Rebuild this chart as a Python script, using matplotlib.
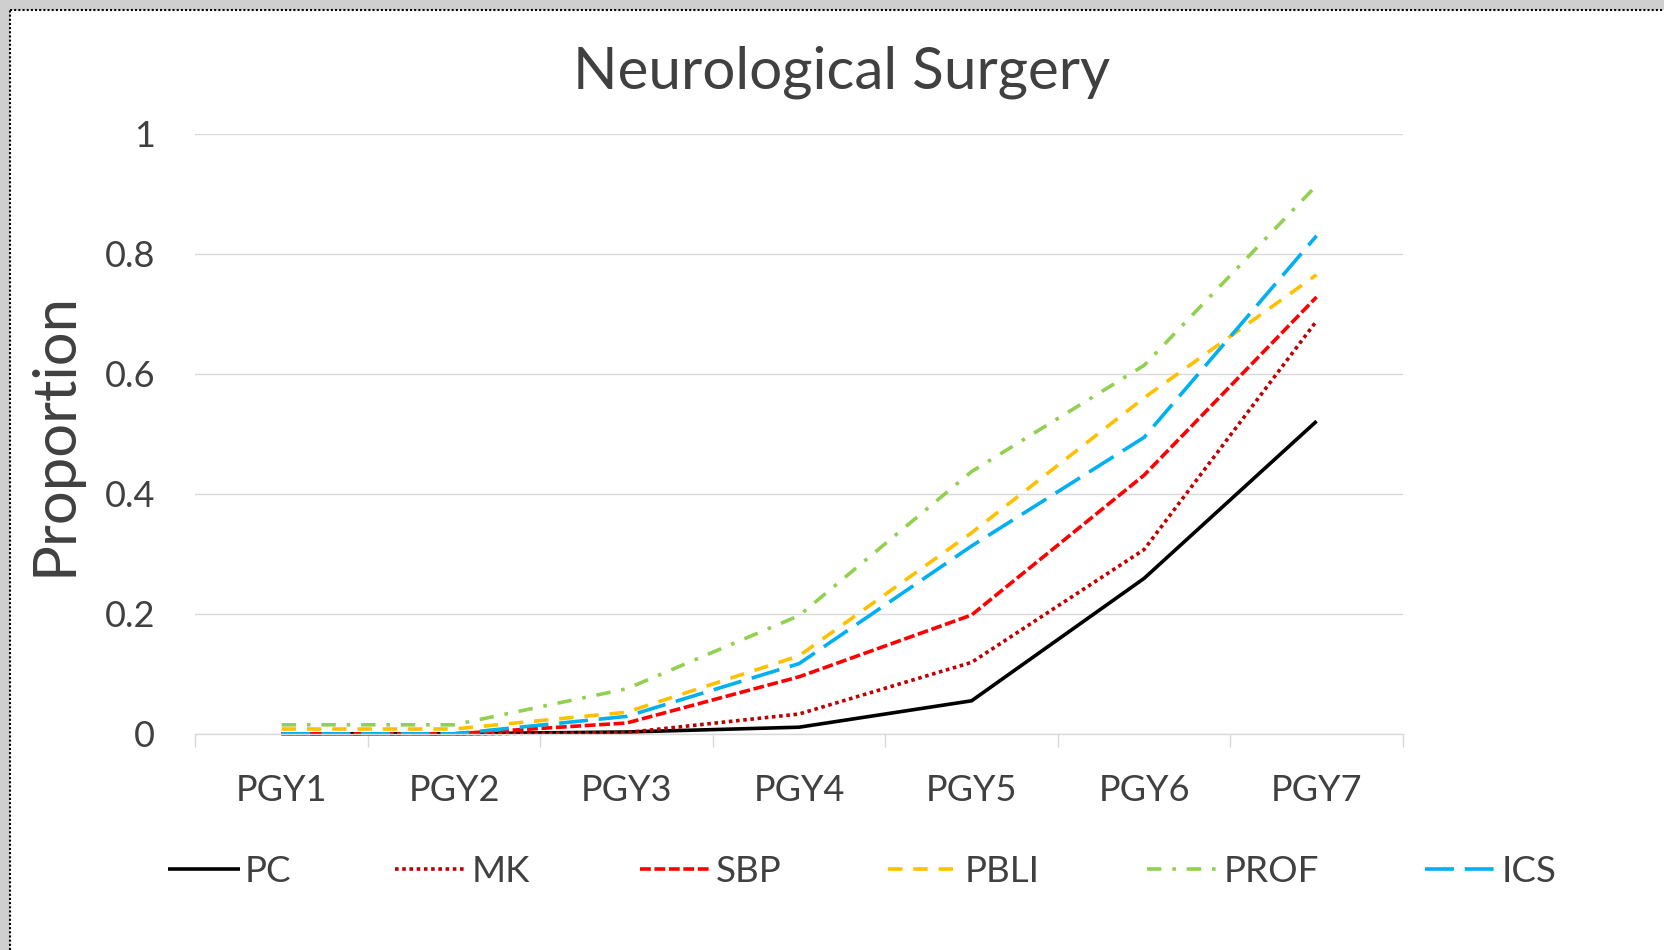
import matplotlib
matplotlib.use("Agg")
import matplotlib.pyplot as plt
from matplotlib.patches import Rectangle
from matplotlib.lines import Line2D

categories = ["PGY1", "PGY2", "PGY3", "PGY4", "PGY5", "PGY6", "PGY7"]
pc   = [0.000, 0.000, 0.003, 0.011, 0.055, 0.259, 0.521]
mk   = [0.000, 0.000, 0.002, 0.033, 0.119, 0.307, 0.688]
sbp  = [0.000, 0.000, 0.018, 0.095, 0.198, 0.431, 0.728]
pbli = [0.008, 0.008, 0.036, 0.130, 0.335, 0.560, 0.765]
prof = [0.015, 0.015, 0.075, 0.197, 0.437, 0.614, 0.914]
ics  = [0.000, 0.000, 0.029, 0.117, 0.313, 0.494, 0.830]
series_names = ["PC", "MK", "SBP", "PBLI", "PROF", "ICS"]
y_ticks = [0, 0.2, 0.4, 0.6, 0.8, 1]
y_tick_labels = ["0", "0.2", "0.4", "0.6", "0.8", "1"]

W, H = 1665, 950
plt.rcParams['font.family'] = ['Lato', 'DejaVu Sans']
txt = '#404040'

fig = plt.figure(figsize=(W / 100, H / 100), dpi=100)
fig.patch.set_facecolor('#cfcfcf')
fig.patches.append(Rectangle((10 / W, 0), 1 - 10 / W, 1 - 10 / H, transform=fig.transFigure,
                             facecolor='white', edgecolor='none', zorder=-10))
fig.lines.append(Line2D([10 / W, 10 / W], [0, 1 - 10 / H], transform=fig.transFigure,
                        color='black', lw=1.5, ls=(0, (1, 1)), zorder=-5))
fig.lines.append(Line2D([10 / W, 1], [1 - 10 / H, 1 - 10 / H], transform=fig.transFigure,
                        color='black', lw=1.5, ls=(0, (1, 1)), zorder=-5))

ax = fig.add_axes([195.4 / W, 1 - 733.8 / H, (1402.8 - 195.4) / W, 600 / H])
ax.set_facecolor('none')
ax.set_zorder(5)

x = list(range(1, len(categories) + 1))
lw = 2.6
styles = [
    (pc,   '#000000', '-'),
    (mk,   '#C00000', (0, (1, 1))),
    (sbp,  '#FF0000', (0, (3, 1))),
    (pbli, '#FFC000', (0, (4, 3))),
    (prof, '#92D050', (0, (4, 3, 1, 3))),
    (ics,  '#00B0F0', (0, (8, 3))),
]
handles = []
for (vals, col, ls), name in zip(styles, series_names):
    ln, = ax.plot(x, vals, color=col, lw=lw, ls=ls, label=name, solid_capstyle='butt',
                  dash_capstyle='butt', clip_on=False)
    handles.append(ln)

ax.set_xlim(0.5, len(categories) + 0.5)
ax.set_ylim(0, 1)
ax.set_yticks(y_ticks)
ax.set_yticklabels(y_tick_labels)
ax.set_xticks(x)
ax.set_xticklabels(categories)
ax.set_xticks([i + 0.5 for i in range(0, len(categories) + 1)], minor=True)
ax.tick_params(axis='x', which='major', length=0, pad=29, labelsize=26, labelcolor=txt)
ax.tick_params(axis='x', which='minor', length=9, width=1, color='#D9D9D9', direction='out')
ax.tick_params(axis='y', length=0, pad=29, labelsize=26, labelcolor=txt)
ax.grid(axis='y', color='#D9D9D9', lw=1)
ax.set_axisbelow(True)
for s in ['top', 'right', 'left']:
    ax.spines[s].set_visible(False)
ax.spines['bottom'].set_color('#D9D9D9')
ax.spines['bottom'].set_linewidth(1)

ax.set_ylabel("Proportion", fontsize=43, color=txt)
ax.yaxis.set_label_coords(-0.094, 0.5)

fig.text(842 / W, 1 - 72 / H, "Neurological Surgery", fontsize=42, color=txt,
         ha='center', va='center')

leg_x = [168, 395, 640, 888, 1147, 1425]
for h, name, lx in zip(handles, series_names, leg_x):
    fig.legend([h], [name], loc='center left', bbox_to_anchor=(lx / W, 1 - 871 / H),
               frameon=False, fontsize=26.5, handlelength=1.95, handletextpad=0.12,
               borderpad=0, borderaxespad=0, labelcolor=txt)

fig.savefig("out.png", dpi=100, facecolor=fig.get_facecolor())
